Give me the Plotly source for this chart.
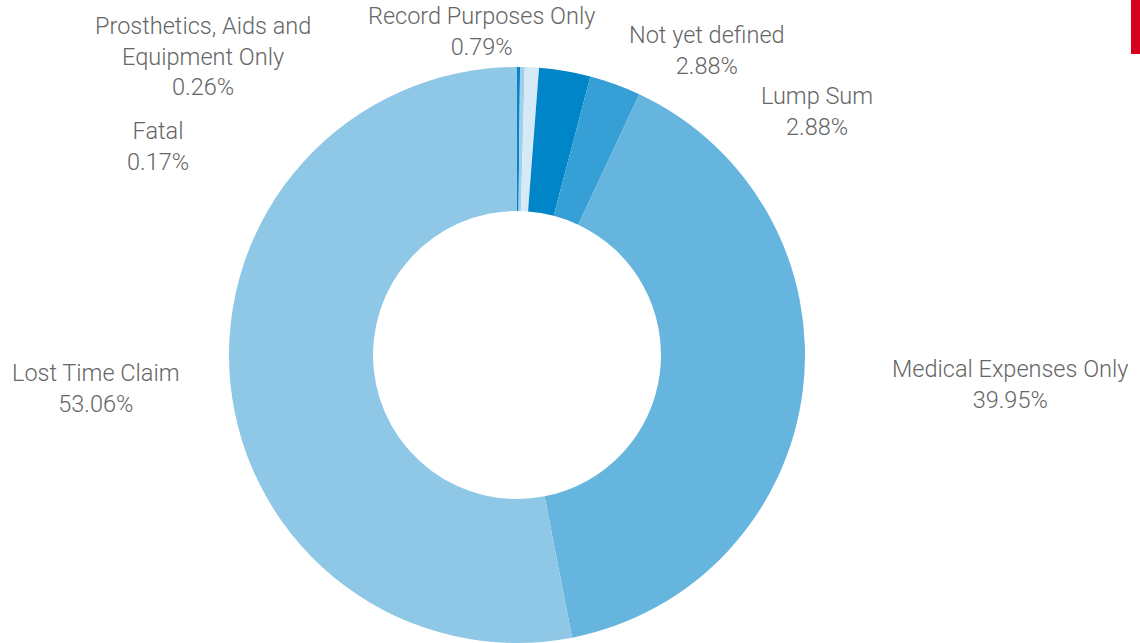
import plotly.graph_objects as go

# Claim types, clockwise from 12 o'clock
categories = [
    "Fatal",
    "Prosthetics, Aids and Equipment Only",
    "Record Purposes Only",
    "Not yet defined",
    "Lump Sum",
    "Medical Expenses Only",
    "Lost Time Claim",
]
shares = [0.17, 0.26, 0.79, 2.88, 2.88, 39.95, 53.06]
colors = ["#0a84c6", "#9fd0ec", "#d5eaf6", "#0085c8", "#369fd6", "#66b5de", "#8fc7e6"]

# Label text as displayed (line breaks for the long name)
label_names = [
    "Fatal",
    "Prosthetics, Aids and<br>Equipment Only",
    "Record Purposes Only",
    "Not yet defined",
    "Lump Sum",
    "Medical Expenses Only",
    "Lost Time Claim",
]

W, H = 1140, 643
CX, CY, R = 517, 355, 288

fig = go.Figure(
    go.Pie(
        labels=categories,
        values=shares,
        hole=0.5,
        sort=False,
        direction="clockwise",
        rotation=0,
        marker=dict(colors=colors, line=dict(width=0)),
        textinfo="none",
        hoverinfo="label+percent",
        domain=dict(x=[(CX - R) / W, (CX + R) / W], y=[1 - (CY + R) / H, 1 - (CY - R) / H]),
        showlegend=False,
    )
)

# Outside label anchor points (pixel centres of each text block)
label_pos = [
    (158, 146),
    (203, 56),
    (481, 32),
    (707, 50),
    (817, 111),
    (1010, 384),
    (96, 388),
]

for name, val, (px, py) in zip(label_names, shares, label_pos):
    fig.add_annotation(
        x=px / W, y=1 - py / H, xref="paper", yref="paper",
        text=f"{name}<br>{val:.2f}%",
        showarrow=False, xanchor="center", yanchor="middle",
        font=dict(family="Roboto", size=23.5, color="#666666", weight=300),
    )

# Accent bar in the top-right corner
fig.add_shape(
    type="rect", xref="paper", yref="paper",
    x0=1131 / W, x1=1.0, y0=1 - 54 / H, y1=1.0,
    fillcolor="#d7001e", line=dict(width=0),
)

fig.update_layout(
    width=W, height=H,
    margin=dict(l=0, r=0, t=0, b=0),
    paper_bgcolor="white", plot_bgcolor="white",
)

fig.write_html("out.html")
